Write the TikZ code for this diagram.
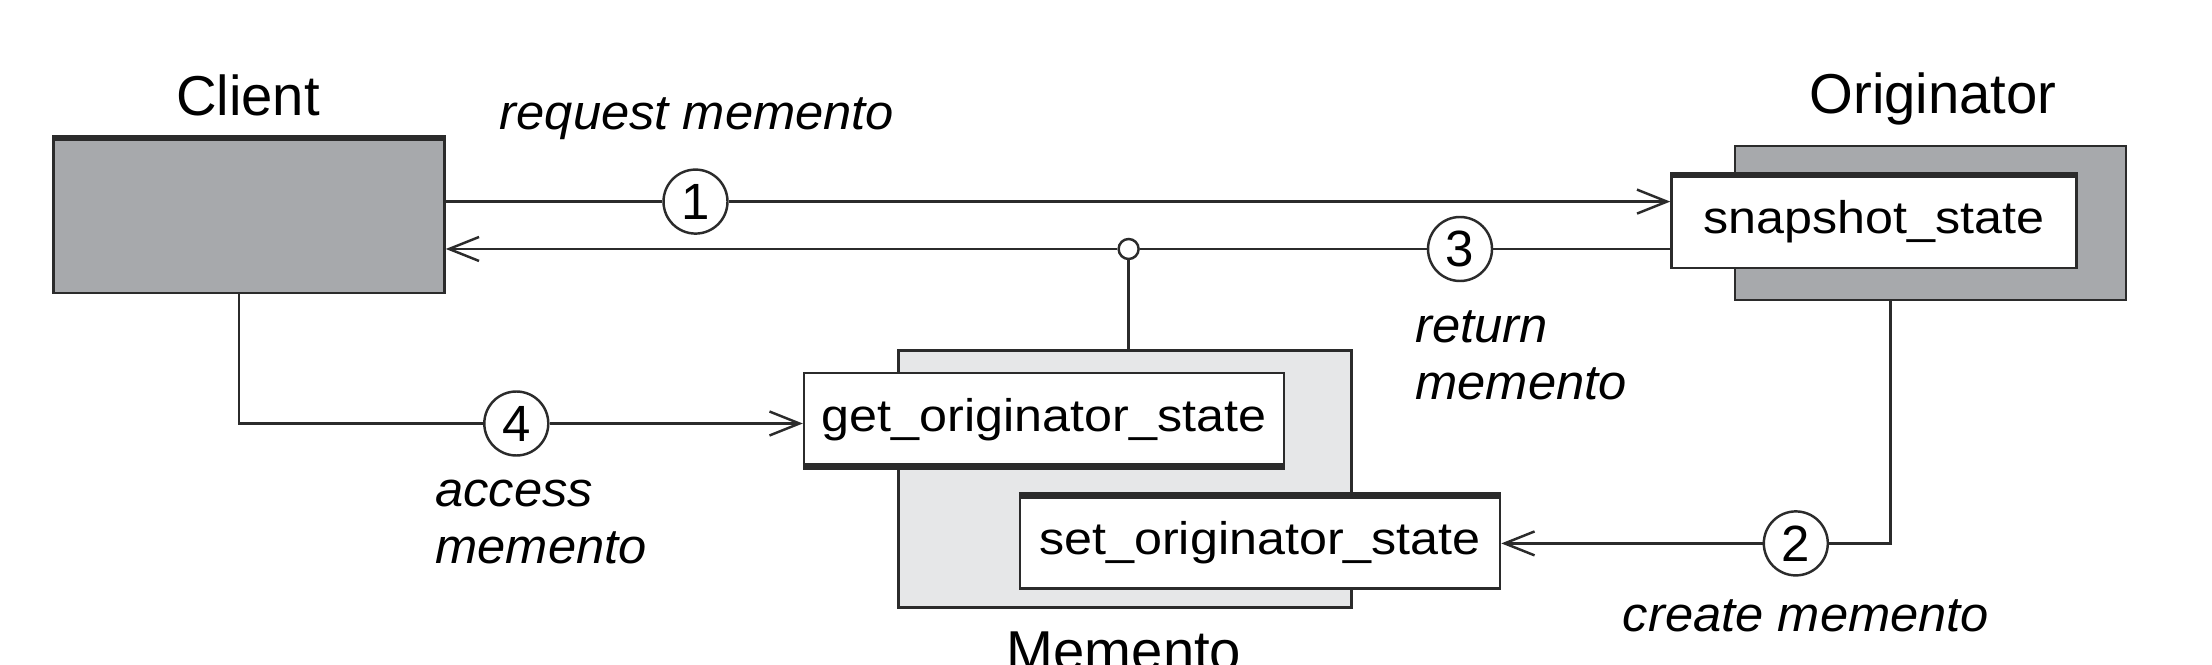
\documentclass[tikz,border=0pt]{standalone}
\usepackage{fontspec}
\setmainfont{Liberation Sans}
\newfontfamily\opfont{Liberation Sans}[FakeStretch=1.1]
\newfontfamily\notefont{Liberation Sans}[FakeStretch=1.03]
\usetikzlibrary{arrows.meta}

\definecolor{boxdark}{HTML}{A7A9AC}
\definecolor{boxlight}{HTML}{E6E7E8}
\definecolor{inkgray}{HTML}{2B2B2B}

\begin{document}
\begin{tikzpicture}[
        font=\fontsize{16}{18}\selectfont,
        ink/.style={draw=inkgray, line width=0.7pt},
        heavy/.style={draw=inkgray, line width=1.8pt},
        arr/.style={ink, -{Straight Barb[length=3mm, width=2.4mm]}},
        darkbox/.style={ink, fill=boxdark, minimum width=3.91cm, minimum height=1.54cm},
        lightbox/.style={ink, fill=boxlight, minimum width=4.53cm, minimum height=2.57cm},
        opbox/.style={ink, fill=white, minimum height=0.92cm, inner sep=0pt,
            font=\opfont\fontsize{13}{15}\selectfont},
        stepmark/.style={ink, circle, fill=white, minimum size=0.64cm, inner sep=0pt,
            font=\fontsize{14.5}{16}\selectfont},
        joint/.style={ink, circle, fill=white, minimum size=0.2cm, inner sep=0pt},
        note/.style={font=\notefont\itshape\fontsize{14}{16.3}\selectfont, align=left}
    ]

        \useasboundingbox (0, 0) rectangle (22.12, 6.64);

        % participants
        \node[darkbox] (client) at (2.49, 4.479) {};
        \node[darkbox] (orig) at (19.305, 4.409) {};
        \node[lightbox] (memento) at (11.25, 1.848) {};
        \node[opbox, minimum width=4.05cm] (snap) at (18.74, 4.42) {snapshot\_state};
        \node[opbox, minimum width=4.8cm] (get) at (10.44, 2.448) {get\_originator\_state};
        \node[opbox, minimum width=4.8cm] (set) at (12.6, 1.213) {set\_originator\_state};

        \draw[heavy] (client.north west) -- (client.north east);
        \draw[heavy] (snap.north west) -- (snap.north east);
        \draw[heavy] (get.south west) -- (get.south east);
        \draw[heavy] (set.north west) -- (set.north east);

        \node[anchor=base] (clientname) at (2.48, 5.48) {Client};
        \node[anchor=base] (origname) at (19.33, 5.50) {Originator};
        \node[anchor=base] (mementoname) at (11.24, -0.06) {Memento};

        % steps
        \node[stepmark] (s1) at (6.955, 4.624) {1};
        \node[stepmark] (s2) at (17.958, 1.206) {2};
        \node[stepmark] (s3) at (14.60, 4.15) {3};
        \node[stepmark] (s4) at (5.163, 2.405) {4};

        \draw[ink] (client.east |- s1) -- (s1);
        \draw[arr] (s1) -- (s1 -| snap.west);

        \draw[ink] ([xshift=-4mm]orig.south) |- (s2);
        \draw[arr] (s2) -- (s2 -| set.east);

        \draw[ink] (s3 -| snap.west) -- (s3);
        \node[joint] (j) at (11.286, 4.15) {};
        \draw[ink] (s3) -- (j);
        \draw[arr] (j) -- (j -| client.east);
        \draw[ink] (j) -- (j |- memento.north);

        \draw[ink] ([xshift=-1mm]client.south) |- (s4);
        \draw[arr] (s4) -- (s4 -| get.west);

        % step labels
        \node[note, anchor=base] (reqnote) at (6.97, 5.34) {request memento};
        \node[note, anchor=base] (createnote) at (18.06, 0.33) {create memento};
        \node[note, anchor=base west] (retnote) at (14.03, 2.64) {return\\memento};
        \node[note, anchor=base west] (accnote) at (4.23, 1.00) {access\\memento};

\end{tikzpicture}
\end{document}
